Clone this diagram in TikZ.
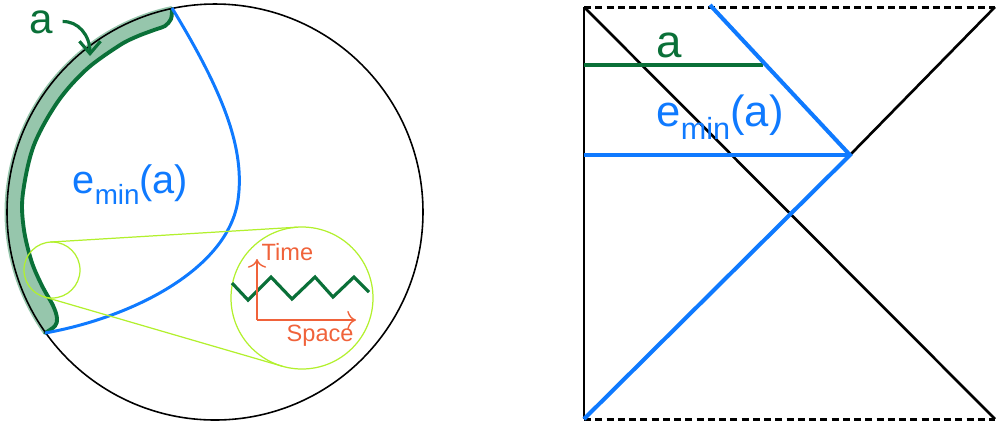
\documentclass[tikz,border=0pt]{standalone}
\usepackage{fontspec}
\setmainfont{Liberation Sans}
\usepackage{xcolor}
\usetikzlibrary{arrows}
\usetikzlibrary{arrows.meta}
\usetikzlibrary{calc}

\definecolor{wedgeblue}{RGB}{15,122,255}
\definecolor{regiongreen}{RGB}{10,112,56}
\definecolor{regionfill}{RGB}{150,198,172}
\definecolor{zoomlime}{RGB}{178,240,45}
\definecolor{axisred}{RGB}{240,98,58}

% #1 main size, #2 subscript size, #3 drop of the subscript
\newcommand{\eminlabel}[3]{\fontsize{#1}{#1}\selectfont e\raisebox{-#3}{\fontsize{#2}{#2}\selectfont min}(a)}

\begin{document}
\begin{tikzpicture}[x=0.01cm,y=-0.01cm,
  lbl/.style={inner sep=0pt,anchor=base west},
  wedge/.style={wedgeblue,line width=1.15pt},
  lens/.style={zoomlime,line width=0.35pt}]
\useasboundingbox (0,0) rectangle (996,423);
% left picture: the disc and the region a
\coordinate (O) at (215,212);
\fill[regionfill] plot[domain=258.1:144.8,samples=60] ({215+210.5*cos(\x)},{212+210.5*sin(\x)})
  -- plot[smooth,tension=0.55] coordinates {(45,333) (55,326) (57,318) (53,305.5) (41.9,285.5) (31.5,261.2) (23.8,228.7) (22.7,195.2) (33.6,146) (57.7,101.8) (86.5,69.3) (119,45.7) (136.9,36.5) (155.7,29.4) (165,26) (171,19) (172,9)} -- cycle;
\draw[regiongreen,line width=1.1pt,line cap=round] plot[smooth,tension=0.55] coordinates {(172,9) (171,19) (165,26) (155.7,29.4) (136.9,36.5) (119,45.7) (86.5,69.3) (57.7,101.8) (33.6,146) (22.7,195.2) (23.8,228.7) (31.5,261.2) (41.9,285.5) (53,305.5) (57,318) (55,326) (45,333)};
\draw[line width=0.45pt] (O) circle[radius=208];
\coordinate (etop) at (172,8);
\coordinate (ebot) at (45,333);
\draw[wedge,line width=0.85pt] (etop) .. controls (225,95) and (245,150) .. (238,200)
  .. controls (228,270) and (130,318) .. (ebot);
\node[lbl,text=wedgeblue] (eminL) at (72,193) {\eminlabel{11.3pt}{7.9pt}{3.4pt}};
\node[lbl,text=regiongreen,font=\fontsize{12}{14}\selectfont] (aL) at (29,33) {a};
\coordinate (atip) at (90,56);
\draw[regiongreen,line width=0.9pt,shorten <=2.5pt,-{Straight Barb[length=3.5pt,width=6pt]}] (aL.east) .. controls (78,21) and (90,35) .. (atip);
% magnifier
\coordinate (zs) at (52,270);
\coordinate (zb) at (302,298);
\draw[lens] (zs) circle[radius=28];
\draw[lens] (zb) circle[radius=71];
\draw[lens] ($(zs)+(-93.45:28)$) -- ($(zb)+(-93.45:71)$);
\draw[lens] ($(zs)+(106.23:28)$) -- ($(zb)+(106.23:71)$);
\draw[regiongreen,line width=0.9pt] plot coordinates {(232,283) (248,300) (271,277) (292,299) (315,277) (333,297) (354,277) (369,292)};
\coordinate (ax0) at (257,320);
\coordinate (axT) at (257,259);
\coordinate (axS) at (356,320);
\draw[axisred,line width=0.4pt,->] (ax0) -- (axT);
\draw[axisred,line width=0.4pt,->] (ax0) -- (axS);
\node[lbl,text=axisred,font=\fontsize{6.7}{8}\selectfont] (timeL) at (261,260) {Time};
\node[lbl,text=axisred,font=\fontsize{6.7}{8}\selectfont] (spaceL) at (286,341) {Space};
% right picture: Penrose diagram
\coordinate (tl) at (584,7);
\coordinate (tr) at (995,7);
\coordinate (bl) at (584,419);
\coordinate (br) at (995,419);
\coordinate (apex) at (850,155);
\coordinate (btop) at (710,5);
\coordinate (hstart) at (584,155);
\coordinate (gstart) at (584,65);
\coordinate (gend) at (763,65);
\draw[line width=0.8pt] (tl) -- (bl);
\draw[line width=0.75pt] (tl) -- (br);
\draw[line width=0.75pt] (apex) -- (tr);
\draw[line width=0.85pt,dash pattern=on 2pt off 1.2pt] (tl) -- (tr);
\draw[line width=0.85pt,dash pattern=on 2pt off 1.2pt] (bl) -- (br);
\draw[regiongreen,line width=1.1pt] (gstart) -- (gend);
\draw[wedge] (btop) -- (apex) -- (bl);
\draw[wedge] (hstart) -- (apex);
\node[lbl,text=regiongreen,font=\fontsize{13}{15}\selectfont] (aR) at (656,57) {a};
\node[lbl,text=wedgeblue] (eminR) at (656,126) {\eminlabel{12.4pt}{8.7pt}{3.7pt}};
\end{tikzpicture}
\end{document}
